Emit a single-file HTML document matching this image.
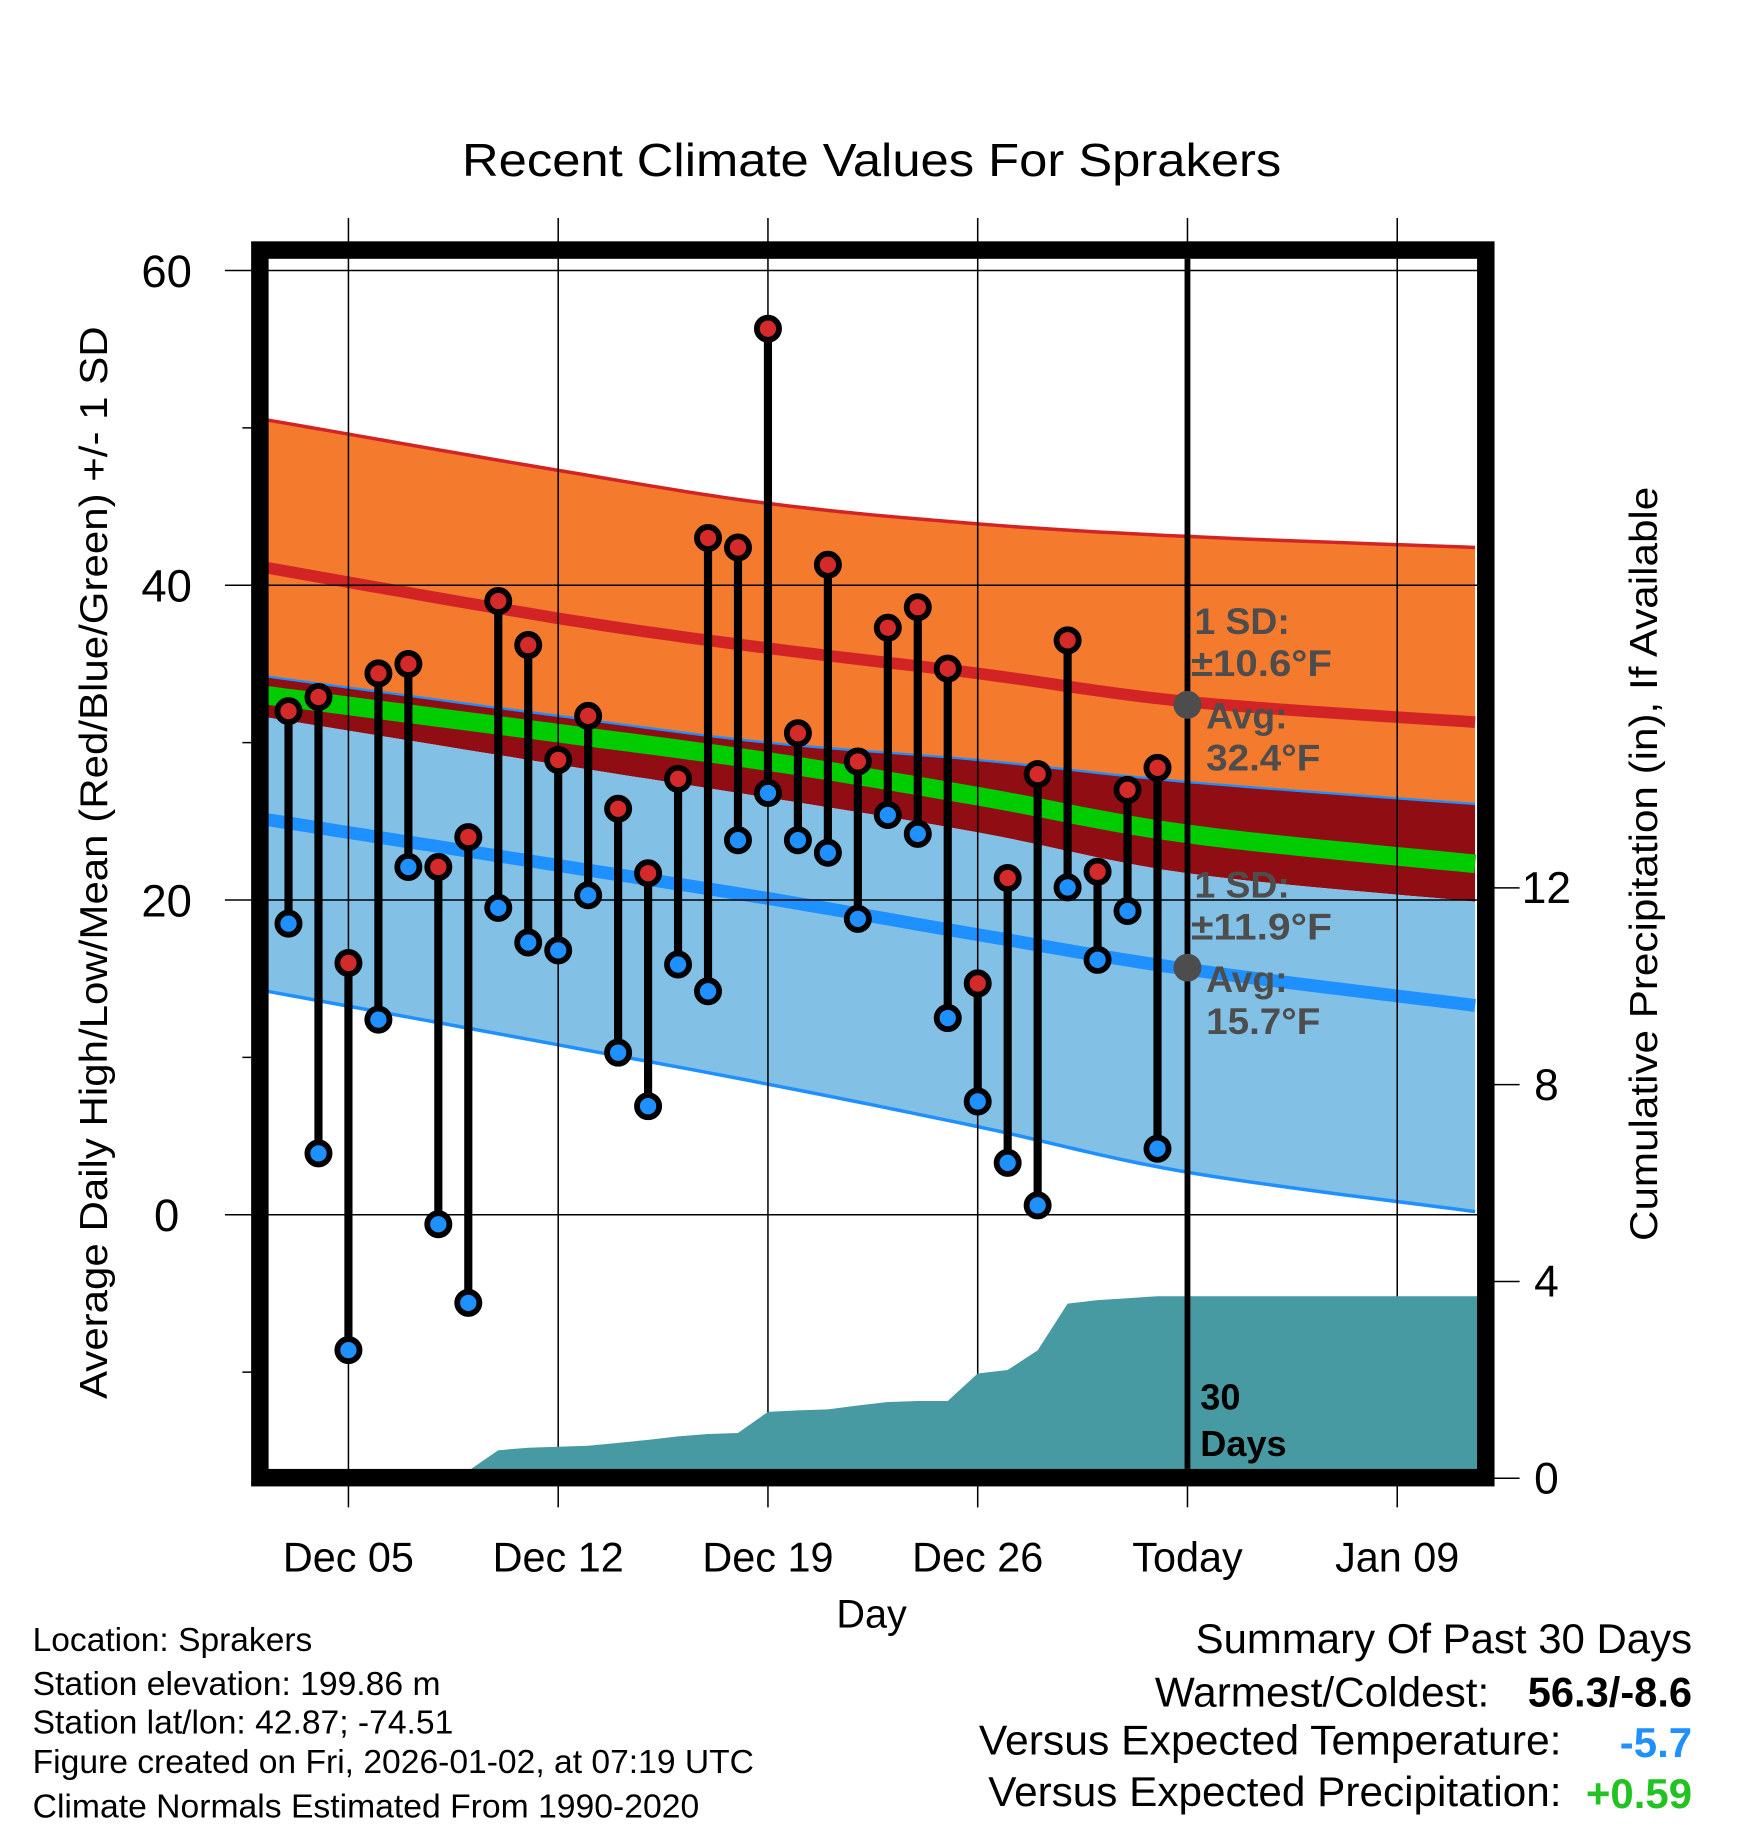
<!DOCTYPE html>
<html><head><meta charset="utf-8"><style>
html,body{margin:0;padding:0;background:#fff}
svg{display:block}
text{font-family:"Liberation Sans",Arial,sans-serif}
</style></head><body>
<svg id="chart" width="1748" height="1828" viewBox="0 0 1500 1568" preserveAspectRatio="none" xmlns="http://www.w3.org/2000/svg">
<g id="bands"></g>
<g id="grid"></g>
<g id="precip"></g>
<g id="today"></g>
<g id="marks"></g>
<g id="frame"></g>
<g id="labels"></g>
</svg>
<script>
// ---- data ----
const dayOffsets = [-2,-1,0,1,2,3,4,5,6,7,8,9,10,11,12,13,14,15,16,17,18,19,20,21,22,23,24,25,26,27];
const highs = [32,32.9,16,34.4,35,22.1,24,39,36.2,28.9,31.7,25.8,21.7,27.7,43,42.4,56.3,30.6,41.3,28.8,37.3,38.6,34.7,14.7,21.4,28,36.5,21.8,27,28.4];
const lows = [18.5,3.9,-8.6,12.4,22.1,-0.6,-5.6,19.5,17.3,16.8,20.3,10.3,6.9,15.9,14.2,23.8,26.8,23.8,23,18.8,25.4,24.2,12.5,7.2,3.3,0.6,20.8,16.2,19.3,4.2];
const precipCum = [0,0,0,0,0,0.03,0.15,0.57,0.62,0.64,0.66,0.72,0.78,0.85,0.9,0.92,1.35,1.38,1.4,1.48,1.55,1.57,1.57,2.13,2.2,2.6,3.55,3.62,3.66,3.7];
const normalDays = [-2.7,7,14,21,28,37.6];
const hiPlusSD = [50.5,47.3,45.2,43.9,43.1,42.4];
const hiMean = [41.1,37.9,36.0,34.4,32.6,31.3];
const overlapTop = [34.2,31.7,30.0,28.9,27.5,26.1];
const meanLine = [33.0,30.6,28.8,26.6,24.2,22.3];
const overlapBottom = [31.6,28.6,26.5,24.3,21.7,19.9];
const loMean = [25.1,22.2,20.1,17.8,15.6,13.3];
const loMinusSD = [14.2,10.8,8.3,5.6,2.7,0.2];
const xTickDays = [0,7,14,21,28,35];
const xTickLabels = ["Dec 05","Dec 12","Dec 19","Dec 26","Today","Jan 09"];
const yTicks = [60,40,20,0];
const yMinor = [50,30,10,-10];
const pTicks = [0,4,8,12];
const todayDay = 28;
const avgHigh = 32.4, avgLow = 15.7;

// ---- scales ----
const xs = d => 299 + 25.714*d;
const ys = v => 1042 - 13.5*v;
const yp = p => 1268 - 42.2*p;
const L = 230, R = 1268, T = 222, B = 1260;
const NS = "http://www.w3.org/2000/svg";
function mk(tag, attrs, parent){const e=document.createElementNS(NS,tag);for(const k in attrs)e.setAttribute(k,attrs[k]);parent.appendChild(e);return e;}
// smooth curve through the normal points (Catmull-Rom sampled)
function curve(arr){
  const P = normalDays.map((d,i)=>[xs(d),ys(arr[i])]);
  const out=[];
  for(let i=0;i<P.length-1;i++){
    const p0=P[Math.max(0,i-1)],p1=P[i],p2=P[i+1],p3=P[Math.min(P.length-1,i+2)];
    for(let s=0;s<10;s++){
      const t=s/10,t2=t*t,t3=t2*t;
      const f=(a,b,c,d)=>0.5*((2*b)+(-a+c)*t+(2*a-5*b+4*c-d)*t2+(-a+3*b-3*c+d)*t3);
      out.push(f(p0[0],p1[0],p2[0],p3[0]).toFixed(1)+","+f(p0[1],p1[1],p2[1],p3[1]).toFixed(1));
    }
  }
  const last=P[P.length-1]; out.push(last[0].toFixed(1)+","+last[1].toFixed(1));
  return out;
}
function band(a,b,fill,name){
  const p = mk("polygon",{points:curve(a).concat(curve(b).reverse()).join(" "),fill:fill},document.getElementById("bands"));
  
  
}
function line(a,stroke,w,name){
  const p = mk("polyline",{points:curve(a).join(" "),fill:"none",stroke:stroke,"stroke-width":w},document.getElementById("bands"));
  
  
}
band(hiPlusSD,overlapTop,"#f47a2e","high-sd-band");
band(overlapTop,overlapBottom,"#8f0d13","overlap-band");
band(overlapBottom,loMinusSD,"#82c0e6","low-sd-band");
line(meanLine,"#00cc00",16,"mean-line");
line(hiMean,"#d22424",10,"high-mean-line");
line(loMean,"#1e90ff",11,"low-mean-line");
line(hiPlusSD,"#d22424",3,"high-plus-sd-line");
line(overlapTop,"#1e90ff",2,"high-minus-sd-edge");
line(loMinusSD,"#1e90ff",3,"low-minus-sd-line");

// grid + ticks
const g = document.getElementById("grid");
yTicks.forEach(v=>{
  const l = mk("line",{x1:193,x2:R,y1:ys(v),y2:ys(v),stroke:"#000","stroke-width":1.3},g);
  
  
});
yMinor.forEach(v=>{
  const l = mk("line",{x1:208,x2:L,y1:ys(v),y2:ys(v),stroke:"#000","stroke-width":1.3},g);
  
  
});
xTickDays.forEach(d=>{
  const l = mk("line",{x1:xs(d),x2:xs(d),y1:187,y2:1293,stroke:"#000","stroke-width":1.3},g);
  
  
});
pTicks.forEach(p=>{
  const l = mk("line",{x1:R,x2:1304,y1:yp(p),y2:yp(p),stroke:"#000","stroke-width":1.3},g);
  
  
});

// precip area
const pp = [xs(-2.7)+","+yp(0)];
pp.push(xs(-2.7)+","+yp(precipCum[0]));
dayOffsets.forEach((d,i)=>pp.push(xs(d)+","+yp(precipCum[i])));
pp.push(R+","+yp(precipCum[precipCum.length-1]));
pp.push(R+","+yp(0));
const pa = mk("polygon",{points:pp.join(" "),fill:"#4799a2"},document.getElementById("precip"));



// today line + avg dots
const td = document.getElementById("today");
const tl = mk("line",{x1:xs(todayDay),x2:xs(todayDay),y1:T,y2:B,stroke:"#000","stroke-width":5},td);


[avgHigh,avgLow].forEach(v=>{
  const c = mk("circle",{cx:xs(todayDay),cy:ys(v),r:12,fill:"#4d4d4d"},td);
  
  
});

// daily marks
const mg = document.getElementById("marks");
dayOffsets.forEach((d,i)=>{
  const x = xs(d);
  const s = mk("line",{x1:x,x2:x,y1:ys(highs[i]),y2:ys(lows[i]),stroke:"#000","stroke-width":7},mg);
  
  
  const h = mk("circle",{cx:x,cy:ys(highs[i]),r:9.5,fill:"#d42a2a",stroke:"#000","stroke-width":5},mg);
  
  
  const lo = mk("circle",{cx:x,cy:ys(lows[i]),r:9.5,fill:"#1e90ff",stroke:"#000","stroke-width":5},mg);
  
  
});

// frame
const fr = mk("rect",{x:223,y:214.5,width:1052,height:1053,fill:"none",stroke:"#000","stroke-width":15},document.getElementById("frame"));



// labels
const lg = document.getElementById("labels");
function txt(str,attrs,name){
  const t = mk("text",attrs,lg); t.textContent = str;
  
  
  return t;
}
yTicks.forEach(v=>txt(String(v),{x:143,y:ys(v)+14,"font-size":39,"text-anchor":"middle"},"y-tick-label"));
pTicks.forEach(p=>txt(String(p),{x:1327,y:yp(p)+13,"font-size":38,"text-anchor":"middle"},"precip-tick-label"));
xTickDays.forEach((d,i)=>txt(xTickLabels[i],{x:xs(d),y:1348,"font-size":35.5,"text-anchor":"middle"},"x-tick-label"));
txt("Recent Climate Values For Sprakers",{x:748,y:151,"font-size":40,"text-anchor":"middle",textLength:703,lengthAdjust:"spacingAndGlyphs"},"chart-title");
txt("Day",{x:748,y:1396,"font-size":34,"text-anchor":"middle"},"x-axis-title");
txt("Average Daily High/Low/Mean (Red/Blue/Green) +/- 1 SD",{x:0,y:0,"font-size":33,"text-anchor":"middle",transform:"translate(92,740) rotate(-90)",textLength:920,lengthAdjust:"spacingAndGlyphs"},"y-axis-title");
txt("Cumulative Precipitation (in), If Available",{x:0,y:0,"font-size":33,"text-anchor":"middle",transform:"translate(1422,741) rotate(-90)",textLength:647,lengthAdjust:"spacingAndGlyphs"},"y2-axis-title");
const ann = {fill:"#4d4d4d","font-size":32,"font-weight":"bold"};
[["1 SD:",1025,544,0],["±10.6°F",1022,580,121],["Avg:",1035,625,0],["32.4°F",1035,661,98],["1 SD:",1025,770,0],["±11.9°F",1022,806,121],["Avg:",1035,851,0],["15.7°F",1035,887,98]].forEach(a=>{
  const at=Object.assign({x:a[1],y:a[2]},ann);
  if(a[3]){at.textLength=a[3];at.lengthAdjust="spacingAndGlyphs";}
  txt(a[0],at,"sd-annotation");
});
txt("30",{x:1030,y:1209,"font-size":31,"font-weight":"bold"},"days-label");
txt("Days",{x:1030,y:1249,"font-size":31,"font-weight":"bold"},"days-label");
[["Location: Sprakers",1416,240],["Station elevation: 199.86 m",1454,350],["Station lat/lon: 42.87; -74.51",1487,361],["Figure created on Fri, 2026-01-02, at 07:19 UTC",1521,619],["Climate Normals Estimated From 1990-2020",1559,572]].forEach(l=>{
  txt(l[0],{x:28,y:l[1],"font-size":28.5,textLength:l[2],lengthAdjust:"spacingAndGlyphs"},"station-info");
});
txt("Summary Of Past 30 Days",{x:1452,y:1418,"font-size":36,"text-anchor":"end",textLength:426,lengthAdjust:"spacingAndGlyphs"},"summary-title");
txt("Warmest/Coldest:",{x:1278,y:1464,"font-size":36,"text-anchor":"end",textLength:287,lengthAdjust:"spacingAndGlyphs"},"summary-label");
txt("56.3/-8.6",{x:1452,y:1464,"font-size":36,"text-anchor":"end","font-weight":"bold",textLength:141,lengthAdjust:"spacingAndGlyphs"},"warmest-coldest-value");
txt("Versus Expected Temperature:",{x:1340,y:1505,"font-size":36,"text-anchor":"end",textLength:500,lengthAdjust:"spacingAndGlyphs"},"summary-label");
txt("-5.7",{x:1452,y:1507,"font-size":36,"text-anchor":"end","font-weight":"bold",fill:"#1e90ff"},"temp-departure-value");
txt("Versus Expected Precipitation:",{x:1340,y:1549,"font-size":36,"text-anchor":"end",textLength:492,lengthAdjust:"spacingAndGlyphs"},"summary-label");
txt("+0.59",{x:1452,y:1551,"font-size":36,"text-anchor":"end","font-weight":"bold",fill:"#22c222"},"precip-departure-value");
</script>
</body></html>
